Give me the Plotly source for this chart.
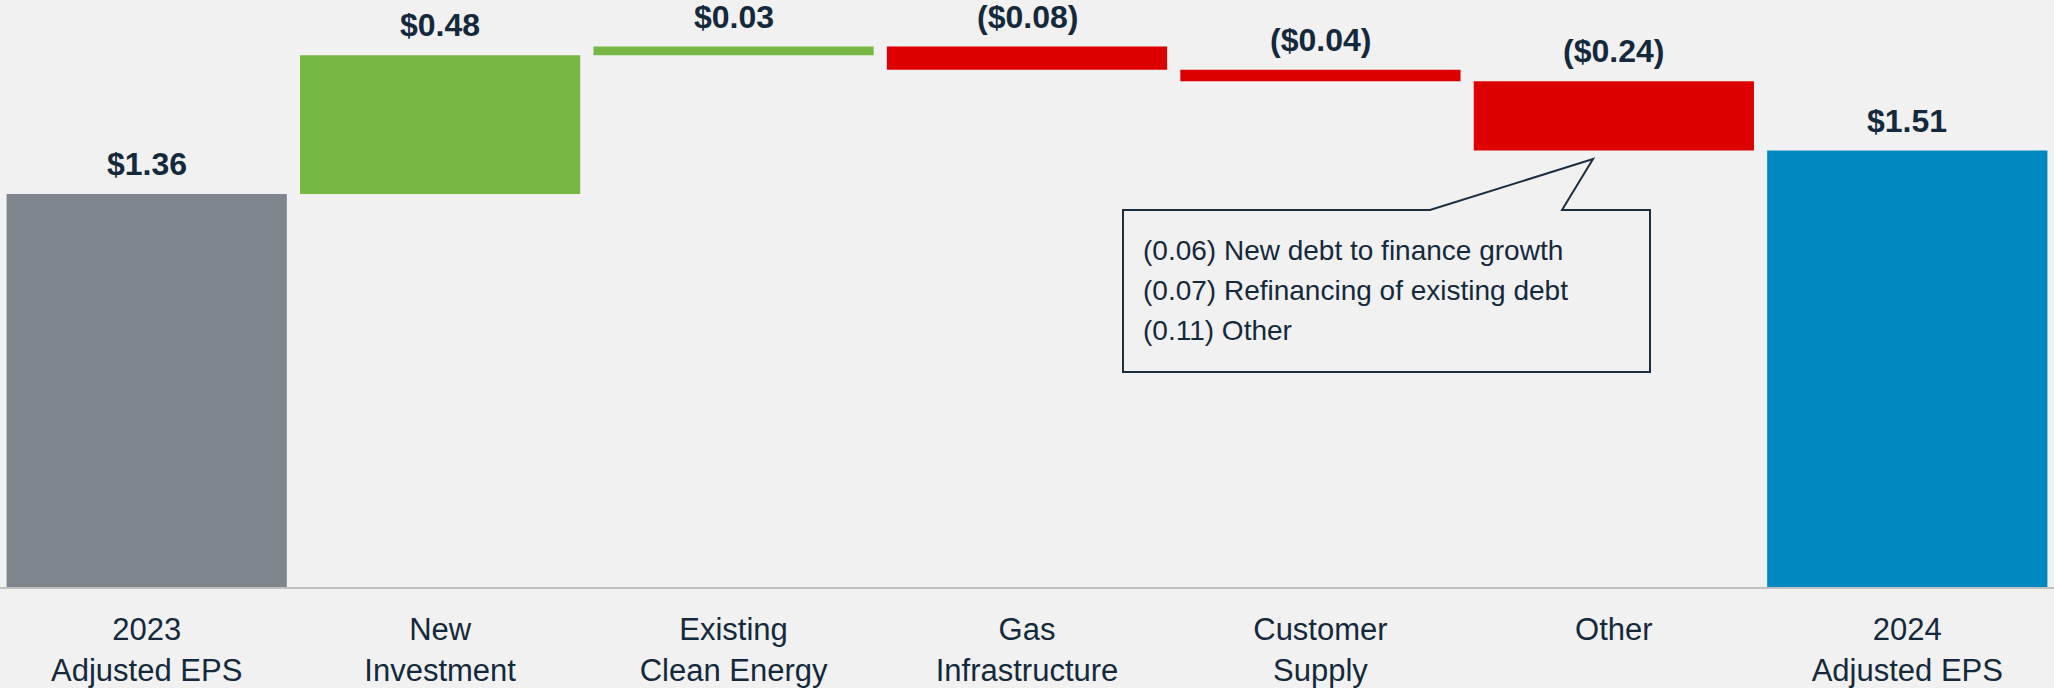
import plotly.graph_objects as go

# ---- data ----
categories = ["2023<br>Adjusted EPS", "New<br>Investment", "Existing<br>Clean Energy",
              "Gas<br>Infrastructure", "Customer<br>Supply", "Other", "2024<br>Adjusted EPS"]
values = [1.36, 0.48, 0.03, -0.08, -0.04, -0.24, 1.51]
kinds = ["total", "delta", "delta", "delta", "delta", "delta", "total"]

callout_values = [-0.06, -0.07, -0.11]
callout_items = ["New debt to finance growth", "Refinancing of existing debt", "Other"]

# ---- styling ----
W, H = 2054, 688
BG = "#f1f1f1"
TXT = "#14293c"
GRAY, GREEN, RED, BLUE = "#7f858c", "#76b843", "#dd0000", "#0089c1"
FONT = "Liberation Sans, Arial, sans-serif"
B_MARGIN = 101
PLOT_H = H - B_MARGIN
Y_MAX = 2.031


def fmt(v):
    return f"${v:.2f}" if v >= 0 else f"(${abs(v):.2f})"


# waterfall bases / heights
bases, heights, tops, colors = [], [], [], []
running = 0.0
for i, (v, k) in enumerate(zip(values, kinds)):
    if k == "total":
        bases.append(0)
        heights.append(v)
        running = v
        colors.append(GRAY if i == 0 else BLUE)
    else:
        bases.append(min(running, running + v))
        heights.append(abs(v))
        running += v
        colors.append(GREEN if v >= 0 else RED)
    tops.append(bases[-1] + heights[-1])

fig = go.Figure()
fig.add_trace(go.Bar(
    x=categories, y=heights, base=bases,
    marker=dict(color=colors, line=dict(width=0)),
    hoverinfo="skip",
))

# value labels above each bar
for cat, v, top in zip(categories, values, tops):
    fig.add_annotation(
        x=cat, y=top, text=f"<b>{fmt(v)}</b>", showarrow=False,
        yanchor="middle", yshift=30,
        font=dict(size=32, color=TXT, family=FONT),
    )


# callout box for "Other"
def px(x, y):
    return x / W, (PLOT_H - y) / PLOT_H


pts = [(1430, 210), (1123, 210), (1123, 372), (1650, 372), (1650, 210), (1562, 210), (1593, 159)]
path = "M " + " L ".join(f"{px(a, b)[0]:.5f},{px(a, b)[1]:.5f}" for a, b in pts) + " Z"
fig.add_shape(type="path", path=path, xref="paper", yref="paper",
              line=dict(color="#1b2f40", width=2), fillcolor="rgba(0,0,0,0)")

for j, (v, item) in enumerate(zip(callout_values, callout_items)):
    xx, yy = px(1141, 250 + 40 * j)
    fig.add_annotation(
        x=xx, y=yy, xref="paper", yref="paper",
        text=f"({abs(v):.2f}) {item}", showarrow=False,
        xanchor="left", yanchor="middle",
        font=dict(size=28, color=TXT, family=FONT),
    )

fig.update_layout(
    width=W, height=H,
    margin=dict(l=0, r=0, t=0, b=B_MARGIN),
    paper_bgcolor=BG, plot_bgcolor=BG,
    bargap=0.045,
    showlegend=False,
    font=dict(family=FONT, color=TXT),
    xaxis=dict(
        showline=True, linecolor="#c0c0c0", linewidth=2,
        showgrid=False, ticks="", zeroline=False, automargin=False,
        ticklabelstandoff=14,
        tickfont=dict(size=31, color=TXT, family=FONT),
    ),
    yaxis=dict(range=[0, Y_MAX], visible=False, showgrid=False, zeroline=False),
)

# drop the browser's default 8px body margin so the figure fills the window
fig.write_html("out.html", config={"displayModeBar": False},
               post_script="document.body.style.margin='0';")
